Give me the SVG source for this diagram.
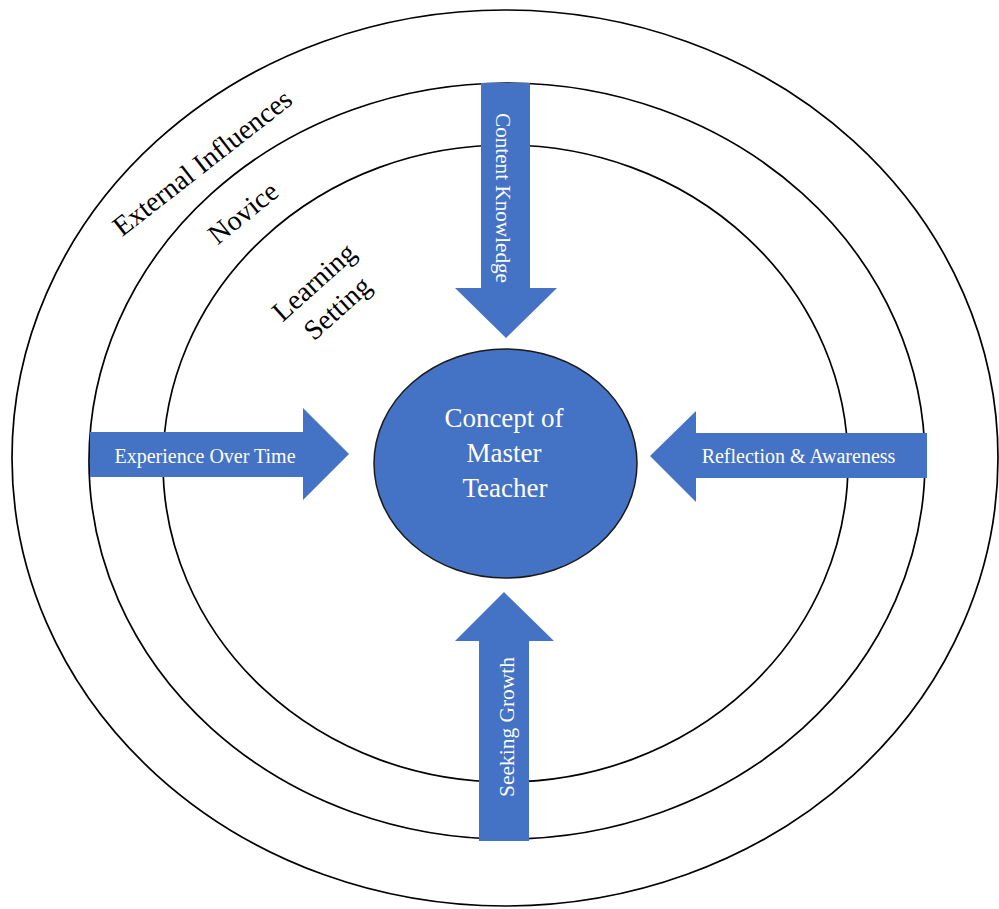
<svg xmlns="http://www.w3.org/2000/svg" width="999" height="909" viewBox="0 0 999 909">
<style>
.ring{fill:none;stroke:#000;stroke-width:1.7}
.arrow{fill:#4472C4}
.lbl{font-family:"Liberation Serif","Times New Roman",serif;fill:#000;font-size:28px}
.atx{font-family:"Liberation Serif","Times New Roman",serif;fill:#fff;font-size:20px}
.ctx{font-family:"Liberation Serif","Times New Roman",serif;fill:#fff;font-size:27px;text-anchor:middle}
</style>
<rect width="999" height="909" fill="#fff"/>
<g id="ring-external">
<ellipse class="ring" cx="505" cy="458" rx="493" ry="448"/>
<text class="lbl" transform="translate(208,170) rotate(-38)" text-anchor="middle">External Influences</text>
</g>
<g id="ring-novice">
<ellipse class="ring" cx="507" cy="461" rx="418" ry="378"/>
<text class="lbl" transform="translate(249,220) rotate(-39)" text-anchor="middle">Novice</text>
</g>
<g id="ring-learning">
<ellipse class="ring" cx="505.5" cy="463.5" rx="342.5" ry="318.5"/>
<g transform="translate(320,289) rotate(-42)">
<text class="lbl" text-anchor="middle">Learning</text>
<text class="lbl" text-anchor="middle" x="0" y="35">Setting</text>
</g>
</g>
<g id="connectors">
<g id="arrow-content">
<polygon class="arrow" points="481,83 530,83 530,288 557,288 506,338 455,288 481,288"/>
<text class="atx" transform="translate(496,198) rotate(90)" text-anchor="middle" textLength="170" lengthAdjust="spacingAndGlyphs">Content Knowledge</text>
</g>
<g id="arrow-experience">
<polygon class="arrow" points="90,432 303,432 303,408 349,454 303,500 303,477 90,477"/>
<text class="atx" x="205" y="463" text-anchor="middle">Experience Over Time</text>
</g>
<g id="arrow-reflection">
<polygon class="arrow" points="927,433 696,433 696,411 650,456 696,502 696,478 927,478"/>
<text class="atx" x="798.5" y="463" text-anchor="middle">Reflection &amp; Awareness</text>
</g>
<g id="arrow-seeking">
<polygon class="arrow" points="479,841 529,841 529,641 554,641 504,592 455,641 479,641"/>
<text class="atx" transform="translate(514,727) rotate(-90)" text-anchor="middle" textLength="140" lengthAdjust="spacingAndGlyphs">Seeking Growth</text>
</g>
</g>
<g id="center">
<ellipse cx="505.5" cy="463.5" rx="131.5" ry="114.5" fill="#4472C4" stroke="#1a1a1a" stroke-width="1.5"/>
<text class="ctx" x="504" y="427">Concept of</text>
<text class="ctx" x="504" y="462">Master</text>
<text class="ctx" x="505" y="497">Teacher</text>
</g>
</svg>
